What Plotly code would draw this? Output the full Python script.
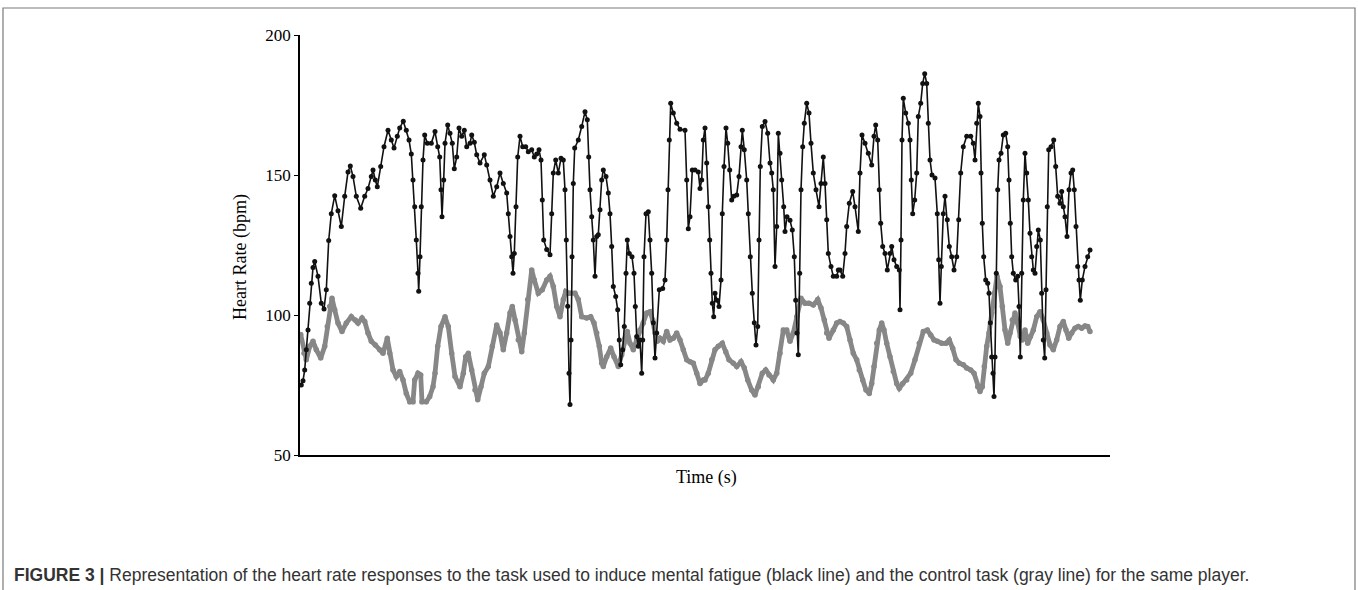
import plotly.graph_objects as go

# ---------------- data (time in s, heart rate in bpm) ----------------
fatigue_time = [
    1.3, 3.0, 4.7, 6.3, 8, 9.7, 11.3, 13.0, 14.7, 18, 21.3, 24, 26.3, 28.7, 31.3, 34.7, 38, 41.3, 44.7, 48,
    50.3, 53, 56.3, 60.7, 64.7, 68, 71.3, 73, 75.3, 77.3, 80.7, 84, 88, 91.3, 94, 97.3, 99.7, 103.3,
    106.3, 109, 111.3, 113, 114.7, 116.3, 118, 118.7, 120, 121.3, 123, 124.7, 127.3, 131.3,
    135, 137.7, 139.7, 141, 142, 143.7, 145, 147.7, 150, 152.3, 154.3, 156.7, 159, 161.7, 164.3, 166.7,
    170, 171.7, 174.3, 176.7, 180, 184.3, 186.7, 190, 193.3, 196.7, 200, 203.3, 206.7, 208.3, 210,
    211.7, 213, 214.3, 216, 217.7, 220, 222.7, 225.7, 228.3, 231.7, 234.3, 236.7, 239, 241, 242.3,
    243.7, 246.7, 250, 251.7, 253.3, 255.7, 258.3, 261, 263.3, 265, 266.3, 267.7, 269,
    270, 271, 272, 273.3, 274.7, 278.3, 281.7, 285, 287.3, 288.7, 290, 291.7, 293.3, 295, 296.7, 298.3,
    300, 301.7, 303.3, 306, 308.3, 310, 311.7, 313.3, 315.7, 317.7, 319.3, 320.7, 322.7, 324.3, 326,
    327.3, 329.3, 332, 334, 335.3, 336.7, 338.3, 340, 341.7, 342.7, 344, 346, 348.3, 350, 351.7, 353.3,
    355, 356.7, 359.3, 362.7, 365, 366.7, 368, 369.3, 370.7, 373.3, 376.7, 380, 385, 386.7, 388.3, 390,
    392.3, 395, 398.3, 400, 401.7, 403.3,
    405, 406.7, 408.3, 409.7, 411, 412.3, 413.7, 415, 417, 419, 421, 422.3, 424, 426, 427.7, 429.7,
    431.7, 433.7, 436.7, 439, 441, 442.3, 444.3, 446.7, 448.3, 450.3, 452.3, 454.3, 456, 457.7, 459,
    460.3, 462.3, 465, 467.7, 470, 471.7, 473.3, 475, 476.7, 478.3, 480, 481.7, 483.7, 485, 487, 490,
    492.3, 494.3, 495.7, 497, 498.3, 499.7, 501, 502.7, 504.3, 506.7, 509, 511, 513.3, 516, 519, 521,
    523.3, 525, 526.7, 528.3, 531, 533.3, 536.7, 538.3,
    540, 542.7, 545, 546.7, 549.3, 552.7, 555, 558.3, 560, 562, 565, 568.3, 571.7, 574, 575.7, 577.7,
    579.3, 580.7, 582.7, 585, 587.3, 590, 591.7, 594, 596.7, 599.3, 600, 601, 602, 603.3, 605.7, 608.3,
    610, 611.3, 612.7, 614.7, 616.7, 618.3, 620.7, 622.7, 624.7, 626.7, 628.3, 630, 632, 635, 637.3,
    638.7, 640, 641.3, 643.3, 645, 647.3, 649.3, 651.7, 654, 656.7, 658.7, 660.7, 663.3, 666.7, 670.7,
    673.3,
    675, 676.7, 678.3, 680, 681, 682.3, 683.7, 685.7, 687.7, 689, 690.3, 691.7, 693, 694, 695, 696.3,
    697.7, 699, 701, 703.3, 705.7, 707.7, 709, 710.3, 711.7, 713.3, 715.7, 717.7, 719, 720.3, 721.7,
    723.3, 725, 726.7, 728.3, 730, 731.7, 733.3, 735, 736.7, 738.3, 740.3, 741.7, 743.3, 744.7, 746,
    747.3, 748.7, 751, 753.7, 755.7, 757.7, 760, 761.7, 763.3, 765, 767, 769, 771, 772.7, 774.3, 776,
    777.7, 779, 780.3, 782.3, 785, 787.7, 790,
]
fatigue_hr = [
    75.0, 76.5, 80.4, 87.6, 94.6, 104.2, 111.3, 117.0, 119.1, 113.8, 104.2, 102.1, 109.0, 126.6, 136.2, 142.6,
    137.2, 131.6, 142.4, 151.1, 153.2, 149.5, 142.4, 138.1, 142.4, 145.2, 149.5, 151.8, 148.2, 145.8, 153.0,
    160.1, 166.0, 162.5, 159.6, 163.8, 166.8, 169.2, 166.0, 162.5, 157.5, 148.2, 138.7, 126.8, 114.9, 108.5,
    120.8, 138.7, 155.4, 164.3, 161.3, 161.3,
    165.5, 160.1, 156.4, 144.7, 135.1, 148.2, 161.3, 167.9, 164.9, 161.3, 152.2, 156.4, 166.8, 163.8, 166.0,
    160.1, 161.3, 164.3, 161.7, 157.2, 154.3, 157.2, 153.6, 148.2, 142.4, 145.8, 150.7, 147.0, 143.6, 136.2,
    128.0, 120.8, 114.9, 122.0, 138.7, 156.4, 163.8, 160.1, 160.1, 158.3, 159.0, 156.4, 157.5, 159.0, 155.4,
    141.1, 126.8, 123.4, 121.5, 136.2, 150.7, 155.4, 150.7, 156.0, 155.4, 144.7, 126.8, 103.1, 79.2,
    68.0, 91.1, 120.8, 147.0, 159.6, 162.5, 167.3, 172.6, 169.7, 156.4, 144.7, 135.1, 126.8, 113.8, 128.0,
    128.7, 137.6, 148.2, 151.8, 149.5, 143.6, 136.2, 124.5, 110.2, 106.6, 101.9, 91.1, 82.2, 87.6, 95.9,
    114.9, 126.8, 122.0, 120.8, 114.9, 103.0, 92.3, 88.8, 91.1, 79.2, 91.1, 120.8, 136.2, 136.9, 126.8,
    114.9, 97.2, 84.6, 93.6, 109.0, 109.5, 112.5, 126.8, 144.7, 162.5, 175.6, 172.1, 168.5, 166.3, 166.0,
    148.2, 130.8, 135.1, 151.8, 151.8, 151.1, 145.2, 148.2, 162.5,
    166.8, 154.3, 138.7, 126.8, 114.9, 104.2, 99.4, 107.8, 105.3, 103.0, 112.5, 136.2, 153.0, 166.8, 161.3,
    151.8, 141.1, 142.4, 142.9, 149.5, 160.1, 166.0, 159.0, 148.2, 136.2, 120.8, 107.8, 97.2, 89.3, 95.9,
    126.8, 153.0, 167.3, 169.1, 164.9, 154.3, 150.7, 144.7, 117.3, 131.6, 164.9, 157.8, 148.2, 138.7, 129.8,
    135.1, 133.8, 130.4, 120.8, 105.3, 93.6, 85.8, 114.9, 144.7, 160.1, 168.5, 175.6, 172.1, 161.3, 150.7,
    144.7, 138.7, 147.0, 156.4, 147.0, 134.0, 122.0, 117.3, 113.8, 113.8, 116.1,
    116.1, 113.8, 122.0, 131.6, 139.9, 144.1, 138.7, 129.8, 150.7, 164.3, 161.3, 157.8, 153.6, 163.8, 167.9,
    162.5, 144.7, 132.8, 124.5, 122.0, 116.1, 122.0, 124.5, 119.7, 117.3, 116.1, 101.9, 126.8, 162.5, 177.4,
    172.1, 168.5, 162.5, 148.2, 136.2, 141.1, 150.7, 170.9, 175.6, 182.7, 186.2, 182.7, 168.5, 155.4, 150.0,
    148.9, 136.2, 119.7, 104.2, 117.3, 136.2, 142.4, 134.0, 124.5, 120.8, 116.1, 120.8, 134.0, 150.7, 160.1,
    163.8, 163.8, 161.3,
    155.4, 168.5, 175.6, 170.9, 150.7, 132.8, 120.8, 112.5, 111.3, 107.8, 97.2, 85.0, 79.2, 70.9, 85.0, 114.9,
    144.7, 155.4, 157.8, 164.3, 164.9, 160.1, 148.2, 132.8, 120.8, 114.9, 112.5, 113.8, 103.0, 85.0, 114.9,
    141.1, 157.8, 150.7, 141.1, 129.2, 120.8, 116.1, 114.9, 124.5, 130.4, 126.8, 107.8, 91.1, 84.6, 109.0,
    138.7, 159.0, 160.1, 162.5, 153.0, 142.4, 139.9, 144.1, 138.7, 135.1, 128.0, 144.7, 150.7, 151.8, 144.7,
    131.6, 117.3, 112.5, 105.3, 112.5, 117.3, 120.8, 123.2,
]

control_time = [
    0.7, 4, 6.3, 9.7, 13, 16.3, 20.7, 24.7, 27.3, 29.7, 32, 34.7, 38, 42, 46.3, 51.3, 55.3, 58, 62, 64.7,
    68, 71.3, 75.3, 79.7, 83, 87.3, 89.7, 93, 96.3, 99.7, 103, 106.3, 109.7, 113, 114.7, 118, 120.7,
    122, 126.3, 129.7, 133,
    135, 137.7, 141, 145, 148.3, 151.7, 155, 160, 163.3, 165.7, 168.3, 171.7, 175, 177.7, 181, 184.3,
    188.3, 192.3, 196.7, 200, 203.3, 206.7, 210, 212.3, 215, 218.3, 221.7, 224.3, 227.7, 231.7, 234.3,
    238.3, 242.3, 246.7, 250, 253.3, 256.7, 260, 263.3, 265.7, 268.3,
    270, 275, 278.3, 281.7, 286.7, 290.7, 294, 296.7, 299.3, 301.7, 303.3, 306.7, 310.7, 314, 318.3,
    321.7, 325, 327.3, 330, 333.3, 336.7, 340, 343.3, 346.7, 350, 352.7, 355, 357.3, 360, 363.3, 366.7,
    370, 373.3, 376.7, 380, 383.3, 386.7, 390, 393.3, 396.7, 400, 403.3,
    405, 408.3, 411.7, 415, 418.3, 422.3, 425.7, 429, 433.3, 436.7, 441, 444.3, 447.7, 451.7, 455,
    458.3, 462.3, 465.7, 469, 473.3, 476.7, 480, 483.3, 486.7, 490, 493.3, 496.7, 501, 505, 509, 513.3,
    517.7, 521, 524.3, 526.7, 529, 533.3, 536.7, 540,
    543.3, 546.7, 550, 553.3, 556.7, 559.3, 562.7, 566, 569.3, 571.7, 574, 576.7, 579.3, 581.7, 584,
    586.7, 590, 593.3, 596.7, 599.3, 602.7, 606.7, 610.7, 615, 619.3, 623.3, 627.3, 630.7, 634, 637.3,
    641.7, 646, 649.3, 652.7, 656, 659.3, 663.3, 666.7, 670.7, 674,
    677.7, 680, 682.3, 684.3, 686.7, 689, 691.7, 694.3, 697, 700, 702.3, 705, 707.7, 710, 712.3, 715,
    717.7, 720.3, 722.3, 725, 727.7, 730.3, 733.3, 736.7, 740, 743.3, 746.7, 750, 753.3, 756.7, 760,
    763.3, 766, 768.7, 771.7, 775, 778.3, 781.7, 785, 787.7, 790,
]
control_hr = [
    93.0, 86.3, 84.0, 88.8, 90.6, 87.6, 84.6, 88.8, 95.9, 103.0, 106.0, 101.9, 97.1, 94.1, 97.1, 99.4,
    98.2, 97.1, 98.9, 97.7, 93.6, 90.6, 89.3, 87.6, 86.3, 91.7, 86.3, 80.4, 78.0, 79.8, 76.8, 72.0, 69.0,
    69.0, 76.8, 79.2, 78.6, 69.0, 69.0, 70.9, 74.4,
    79.2, 88.8, 95.9, 99.4, 95.9, 86.3, 78.0, 74.4, 79.2, 85.1, 86.3, 80.4, 73.2, 69.7, 74.4, 79.2,
    81.6, 88.8, 96.4, 93.6, 87.6, 93.6, 100.7, 103.0, 98.2, 91.1, 86.9, 93.6, 105.5, 116.1, 112.5,
    107.8, 109.0, 112.5, 113.8, 110.2, 103.0, 99.4, 105.5, 108.4, 107.8,
    107.8, 107.8, 105.5, 99.4, 98.9, 99.4, 97.1, 93.6, 88.8, 82.8, 81.6, 85.1, 88.2, 85.1, 81.6,
    85.8, 91.7, 94.1, 89.9, 87.6, 91.1, 94.6, 97.1, 100.7, 101.2, 98.2, 93.6, 90.6, 91.7, 90.6, 94.1,
    91.1, 91.7, 93.6, 91.1, 87.6, 84.0, 83.3, 82.8, 79.2, 75.5, 76.8,
    76.8, 79.2, 84.0, 87.6, 88.8, 89.9, 86.9, 84.0, 82.8, 81.6, 83.3, 81.1, 76.8, 73.2, 71.4,
    74.4, 79.2, 80.4, 78.6, 76.8, 79.2, 86.3, 94.6, 94.6, 90.6, 93.6, 99.4, 106.0, 104.2, 104.2, 103.6,
    105.5, 102.5, 98.2, 93.6, 91.7, 94.6, 97.1, 97.7,
    97.1, 95.9, 91.1, 86.3, 84.0, 80.4, 76.8, 73.2, 72.0, 75.5, 81.6, 89.9, 94.6, 97.1, 94.6,
    89.9, 85.1, 79.8, 75.5, 73.8, 75.5, 76.8, 79.2, 84.0, 89.9, 94.1, 94.6, 92.9, 91.1, 90.6,
    89.9, 89.9, 91.1, 88.1, 84.0, 82.8, 82.2, 81.1, 80.4, 79.2,
    74.4, 72.7, 74.4, 81.6, 88.8, 93.6, 100.7, 107.8, 113.8, 110.2, 103.0, 94.6, 89.9, 93.6, 98.2, 100.7,
    97.1, 92.3, 91.1, 94.6, 89.9, 92.3, 94.6, 99.4, 101.2, 98.2, 93.6, 89.3, 87.6, 91.1, 95.9,
    97.7, 94.6, 91.7, 93.6, 95.3, 95.9, 95.3, 96.1, 95.9, 94.1,
]

y_ticks = [50, 100, 150, 200]
y_title = "Heart Rate (bpm)"
x_title = "Time (s)"
caption_bold = "FIGURE 3 |"
caption_text = (" Representation of the heart rate responses to the task used to induce mental "
                "fatigue (black line) and the control task (gray line) for the same player.")

# ---------------- figure ----------------
W, H = 1358, 590
L, R, T, B = 300, 1110, 35, 455  # plot area in px

fig = go.Figure()
fig.add_trace(go.Scatter(
    x=control_time, y=control_hr, mode="lines+markers",
    line=dict(color="#878787", width=4.8),
    marker=dict(color="#878787", size=5.5),
    showlegend=False, hoverinfo="skip"))
fig.add_trace(go.Scatter(
    x=fatigue_time, y=fatigue_hr, mode="lines+markers",
    line=dict(color="#111111", width=1.6),
    marker=dict(color="#111111", size=5),
    showlegend=False, hoverinfo="skip"))


def px_x(p):
    return (p - L) / (R - L)


def px_y(p):
    return (B - p) / (B - T)


serif = "Liberation Serif, Times New Roman, serif"
sans = "Liberation Sans, Arial, sans-serif"

fig.update_layout(
    width=W, height=H,
    margin=dict(l=L, r=W - R, t=T, b=H - B, pad=0),
    paper_bgcolor="white", plot_bgcolor="white",
    xaxis=dict(range=[0, R - L], showgrid=False, zeroline=False, showticklabels=False,
               ticks="", showline=True, linecolor="black", linewidth=1.8),
    yaxis=dict(range=[50, 200], tickvals=y_ticks, ticktext=[str(v) for v in y_ticks],
               showgrid=False, zeroline=False, ticks="outside", ticklen=4, tickwidth=1.2,
               tickcolor="black", showline=True, linecolor="black", linewidth=1.8,
               tickfont=dict(family=serif, size=17, color="black")),
    shapes=[dict(type="rect", xref="paper", yref="paper",
                 x0=px_x(3), x1=px_x(1355), y0=px_y(640), y1=px_y(8),
                 line=dict(color="#7a7a7a", width=1.2), fillcolor="rgba(0,0,0,0)", layer="below")],
    annotations=[
        dict(text=y_title, xref="paper", yref="paper", x=px_x(240), y=px_y(257),
             textangle=-90, showarrow=False, xanchor="center", yanchor="middle",
             font=dict(family=serif, size=18, color="black")),
        dict(text=x_title, xref="paper", yref="paper", x=px_x(706), y=px_y(477),
             showarrow=False, xanchor="center", yanchor="middle",
             font=dict(family=serif, size=18, color="black")),
        dict(text="<b>" + caption_bold + "</b>" + caption_text, xref="paper", yref="paper",
             x=px_x(12), y=px_y(575), showarrow=False, xanchor="left", yanchor="middle",
             font=dict(family=sans, size=17.5, color="#333333")),
    ],
)

fig.write_html("out.html", config={"displayModeBar": False},
               post_script="document.body.style.margin='0px';")
